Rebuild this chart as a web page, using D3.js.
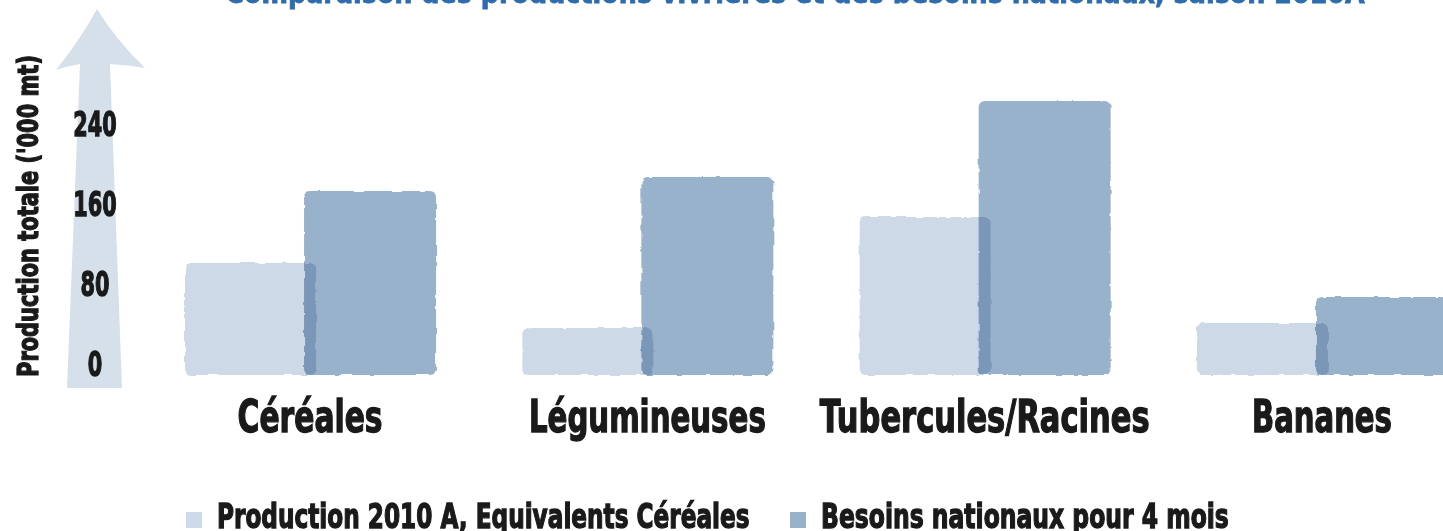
<!DOCTYPE html>
<html>
<head>
<meta charset="utf-8">
<script src="https://cdn.jsdelivr.net/npm/d3@7"></script>
<style>
  body { margin: 0; background: #fff; }
  svg { display: block; }
  .heavy { font-family: 'Liberation Sans Narrow', 'DejaVu Sans Condensed', sans-serif; font-weight: bold; fill: #1a1a1a; stroke: #1a1a1a; stroke-width: 1.3; }
</style>
</head>
<body>
<div id="chart"></div>
<script>
// values in '000 mt
var categories = ["Céréales", "Légumineuses", "Tubercules/Racines", "Bananes"];
var production = [112, 47, 158, 52];
var besoins = [184, 198, 274, 78];
var yTicks = [0, 80, 160, 240];
var seriesNames = ["Production 2010 A, Equivalents Céréales", "Besoins nationaux  pour 4 mois"];
var title = "Comparaison des productions vivrières et des besoins nationaux, saison 2010A";

var width = 1443, height = 531;
var lightColor = "#cdd9e6", darkColor = "#99b2cc";

var svg = d3.select("#chart").append("svg")
    .attr("width", width)
    .attr("height", height);

// squeeze a text horizontally so it spans w pixels (anchor middle at cx / start at cx)
function fit(sel, cx, cy, w, anchor, rot) {
  sel.each(function (d, i) {
    var t = d3.select(this);
    var tw = typeof w === "function" ? w(d, i) : w;
    var px = typeof cx === "function" ? cx(d, i) : cx;
    var py = typeof cy === "function" ? cy(d, i) : cy;
    var nat = this.getComputedTextLength();
    t.attr("text-anchor", anchor || "middle").attr("x", 0).attr("y", 0)
     .attr("transform", "translate(" + px + "," + py + ")" + (rot ? " rotate(" + rot + ")" : "") + " scale(" + (tw / nat) + ",1)");
  });
}

// rough brush edge
var defs = svg.append("defs");
var filt = defs.append("filter").attr("id", "rough")
    .attr("x", "-5%").attr("y", "-5%").attr("width", "110%").attr("height", "110%");
filt.append("feTurbulence").attr("type", "fractalNoise")
    .attr("baseFrequency", 0.09).attr("numOctaves", 2).attr("seed", 3).attr("result", "noise");
filt.append("feDisplacementMap").attr("in", "SourceGraphic").attr("in2", "noise")
    .attr("scale", 3.5).attr("xChannelSelector", "R").attr("yChannelSelector", "G");

var x = d3.scaleBand().domain(categories).range([141.4, 1490.6]);
var y = d3.scaleLinear().domain([0, 240]).range([375, 135]);

// title, cut at the top of the picture
svg.append("text")
    .style("font-family", "'Liberation Sans Narrow', 'DejaVu Sans Condensed', sans-serif")
    .style("font-weight", "bold").style("font-size", "30px")
    .style("fill", "#2f6cae").style("stroke", "#2f6cae").style("stroke-width", 0.8)
    .text(title)
    .call(fit, 795, 3, 1140);

// big arrow behind the axis
svg.append("path")
    .attr("d", "M67,388 L80,64 Q68,66 56,70 Q80,40 97,9 Q116,40 145,68 Q128,65 110,64 L122,388 Z")
    .attr("fill", "#d5e0ea");

// y axis title
svg.append("text")
    .attr("class", "heavy")
    .style("font-size", "28px")
    .text("Production totale ('000 mt)")
    .call(fit, 38, 216, 322, "middle", -90);

// y tick labels
svg.append("g").selectAll("text")
  .data(yTicks)
  .join("text")
    .attr("class", "heavy")
    .style("font-size", "34px")
    .text(function (d) { return d; })
    .call(fit, 95, function (d) { return y(d) + 1; }, function (d) { return String(d).length * 14.5; });

var bw = 131, overlap = 12;
var cx = function (c) { return x(c) + x.bandwidth() / 2; };

svg.append("g").attr("filter", "url(#rough)").selectAll("rect")
  .data(categories)
  .join("rect")
    .attr("x", function (c) { return cx(c) - bw + overlap / 2; })
    .attr("y", function (c, i) { return y(production[i]); })
    .attr("width", bw)
    .attr("height", function (c, i) { return y(0) - y(production[i]); })
    .attr("rx", 6)
    .attr("fill", lightColor);

svg.append("g").attr("filter", "url(#rough)").style("mix-blend-mode", "multiply").selectAll("rect")
  .data(categories)
  .join("rect")
    .attr("x", function (c) { return cx(c) - overlap / 2; })
    .attr("y", function (c, i) { return y(besoins[i]); })
    .attr("width", bw + 1)
    .attr("height", function (c, i) { return y(0) - y(besoins[i]); })
    .attr("rx", 6)
    .attr("fill", darkColor);

// category labels
var labelWidths = [145, 237, 330, 140];
svg.append("g").selectAll("text")
  .data(categories)
  .join("text")
    .attr("class", "heavy")
    .style("font-size", "44px")
    .text(function (c) { return c; })
    .call(fit, cx, 432, function (c, i) { return labelWidths[i]; });

// legend
var legend = [
  {name: seriesNames[0], color: lightColor, x: 186, w: 533},
  {name: seriesNames[1], color: darkColor, x: 790, w: 408}
];
var lg = svg.append("g").selectAll("g").data(legend).join("g")
    .attr("transform", function (d) { return "translate(" + d.x + ",0)"; });
lg.append("rect").attr("y", 512).attr("width", 16).attr("height", 16).attr("fill", function (d) { return d.color; });
lg.append("text")
    .attr("class", "heavy")
    .style("font-size", "34px")
    .text(function (d) { return d.name; })
    .call(fit, 31, 528, function (d) { return d.w; }, "start");
</script>
</body>
</html>
